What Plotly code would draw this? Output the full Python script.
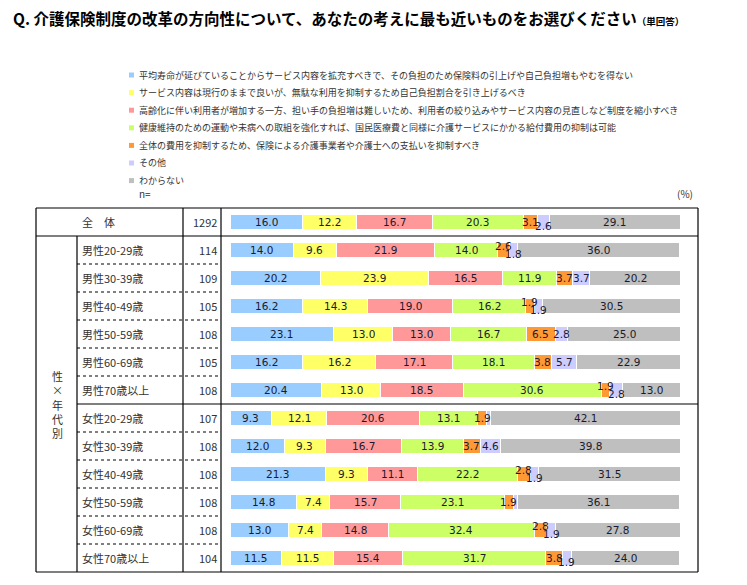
import plotly.graph_objects as go

# the page body adds an 8px margin; the figure is sized so the page fits the window
OFF = 8
W, H = 747 - 2 * OFF, 585 - 2 * OFF

title_main = "Q. 介護保険制度の改革の方向性について、あなたの考えに最も近いものをお選びください"
title_sub = "（単回答）"

series_names = [
    "平均寿命が延びていることからサービス内容を拡充すべきで、その負担のため保険料の引上げや自己負担増もやむを得ない",
    "サービス内容は現行のままで良いが、無駄な利用を抑制するため自己負担割合を引き上げるべき",
    "高齢化に伴い利用者が増加する一方、担い手の負担増は難しいため、利用者の絞り込みやサービス内容の見直しなど制度を縮小すべき",
    "健康維持のための運動や未病への取組を強化すれば、国民医療費と同様に介護サービスにかかる給付費用の抑制は可能",
    "全体の費用を抑制するため、保険による介護事業者や介護士への支払いを抑制すべき",
    "その他",
    "わからない",
]
colors = ["#99CCFF", "#FFFF66", "#FF9999", "#CCFF66", "#FF9933", "#CCCCFF", "#BFBFBF"]

rows = ["全　体",
        "男性20-29歳", "男性30-39歳", "男性40-49歳", "男性50-59歳", "男性60-69歳", "男性70歳以上",
        "女性20-29歳", "女性30-39歳", "女性40-49歳", "女性50-59歳", "女性60-69歳", "女性70歳以上"]
n_values = [1292, 114, 109, 105, 108, 105, 108, 107, 108, 108, 108, 108, 104]

s_expand = [16.0, 14.0, 20.2, 16.2, 23.1, 16.2, 20.4, 9.3, 12.0, 21.3, 14.8, 13.0, 11.5]
s_copay = [12.2, 9.6, 23.9, 14.3, 13.0, 16.2, 13.0, 12.1, 9.3, 9.3, 7.4, 7.4, 11.5]
s_shrink = [16.7, 21.9, 16.5, 19.0, 13.0, 17.1, 18.5, 20.6, 16.7, 11.1, 15.7, 14.8, 15.4]
s_health = [20.3, 14.0, 11.9, 16.2, 16.7, 18.1, 30.6, 13.1, 13.9, 22.2, 23.1, 32.4, 31.7]
s_pay = [3.1, 2.6, 3.7, 1.9, 6.5, 3.8, 1.9, 1.9, 3.7, 2.8, 1.9, 2.8, 3.8]
s_other = [2.6, 1.8, 3.7, 1.9, 2.8, 5.7, 2.8, 0.9, 4.6, 1.9, 0.9, 1.9, 1.9]
s_unknown = [29.1, 36.0, 20.2, 30.5, 25.0, 22.9, 13.0, 42.1, 39.8, 31.5, 36.1, 27.8, 24.0]
series = [s_expand, s_copay, s_shrink, s_health, s_pay, s_other, s_unknown]

side_label = "性<br>×<br>年<br>代<br>別"

# layout geometry (window pixels)
TOP, BOT = 208, 572
LEFT, RIGHT = 36, 698
C1, C2, C3 = 77, 183, 221
BX0, BX1 = 230, 680
NR = len(rows)


def px(x):
    return (x - OFF) / W


def py(y):
    return 1 - (y - OFF) / H


FONT = "Noto Sans CJK JP"
TXT = "#333333"

fig = go.Figure()
idx = list(range(NR))
for name, vals, col in zip(series_names, series, colors):
    fig.add_trace(go.Bar(
        y=idx, x=vals, orientation="h", name=name, width=0.54,
        marker=dict(color=col, line=dict(color="white", width=1)),
        hoverinfo="x+name", showlegend=False,
    ))

annotations = []
# value labels
for r in range(NR):
    cum = 0.0
    for k, vals in enumerate(series):
        v = vals[r]
        center = cum + v / 2
        cum += v
        if v < 1.0:
            continue
        shift = 0
        if k == 5 and v < 3 and s_pay[r] < 5:
            shift = -4
        if k == 4 and v < 3 and s_other[r] >= 1.0:
            shift = 4
        annotations.append(dict(
            x=center, y=r, xref="x", yref="y", text=f"{v:.1f}", showarrow=False,
            xanchor="center", yanchor="middle", yshift=shift,
            font=dict(family="DejaVu Sans", size=10.5, color="#1a1a2e"),
        ))

# row labels and n
for r, (lab, n) in enumerate(zip(rows, n_values)):
    annotations.append(dict(x=px(80), y=r, xref="paper", yref="y", text=lab,
                            xanchor="left", yanchor="middle", showarrow=False,
                            font=dict(family=FONT, size=11, color=TXT)))
    annotations.append(dict(x=px(219), y=r, xref="paper", yref="y", text=str(n),
                            xanchor="right", yanchor="middle", showarrow=False,
                            font=dict(family=FONT, size=11, color=TXT)))

annotations.append(dict(x=px(57), y=py(404), xref="paper", yref="paper", text=side_label,
                        showarrow=False, xanchor="center", yanchor="middle",
                        font=dict(family=FONT, size=11, color=TXT), align="center"))

# title
annotations.append(dict(x=px(11), y=py(18), xref="paper", yref="paper",
                        xanchor="left", yanchor="middle",
                        text=f"<b>{title_main}</b><span style='font-size:9.5px'><b>{title_sub}</b></span>",
                        showarrow=False, font=dict(family=FONT, size=15.5, color="#000000")))

# legend
leg_y0, leg_dy = 75, 17.6
shapes = []
for i, (name, col) in enumerate(zip(series_names, colors)):
    yy = leg_y0 + i * leg_dy
    shapes.append(dict(type="rect", xref="paper", yref="paper",
                       x0=px(129), x1=px(134), y0=py(yy - 2.5), y1=py(yy + 2.5),
                       fillcolor=col, line=dict(width=0)))
    annotations.append(dict(x=px(137), y=py(yy), xref="paper", yref="paper",
                            xanchor="left", yanchor="middle",
                            text=name, showarrow=False,
                            font=dict(family=FONT, size=9, color=TXT)))

annotations.append(dict(x=px(137), y=py(194), xref="paper", yref="paper",
                        xanchor="left", yanchor="middle",
                        text="n=", showarrow=False, font=dict(family=FONT, size=10, color=TXT)))
annotations.append(dict(x=px(695), y=py(194), xref="paper", yref="paper",
                        xanchor="right", yanchor="middle",
                        text="(%)", showarrow=False, font=dict(family=FONT, size=10, color=TXT)))


# table lines
def line(x0, y0, x1, y1, dash="solid", width=1.2):
    shapes.append(dict(type="line", xref="paper", yref="paper",
                       x0=px(x0), y0=py(y0), x1=px(x1), y1=py(y1),
                       line=dict(color="#000000", width=width, dash=dash)))


RH = (BOT - TOP) / NR
line(LEFT, TOP, RIGHT, TOP)
line(LEFT, BOT, RIGHT, BOT)
line(LEFT, TOP, LEFT, BOT)
line(RIGHT, TOP, RIGHT, BOT)
line(C2, TOP, C2, BOT)
line(C3, TOP, C3, BOT)
line(C1, TOP + RH, C1, BOT)
line(LEFT, TOP + RH, RIGHT, TOP + RH)
line(C1, TOP + 7 * RH, RIGHT, TOP + 7 * RH)
for r in list(range(2, 7)) + list(range(8, 13)):
    line(C1, TOP + r * RH, C3, TOP + r * RH, dash="dot", width=1)

fig.update_layout(
    width=W, height=H, barmode="stack",
    margin=dict(l=0, r=0, t=0, b=0),
    paper_bgcolor="white", plot_bgcolor="white",
    xaxis=dict(domain=[px(BX0), px(BX1)], range=[0, 100], visible=False, fixedrange=True),
    yaxis=dict(domain=[py(BOT), py(TOP)], range=[NR - 0.5, -0.5], visible=False, fixedrange=True),
    annotations=annotations, shapes=shapes,
    font=dict(family=FONT),
)

fig.write_html("out.html")
